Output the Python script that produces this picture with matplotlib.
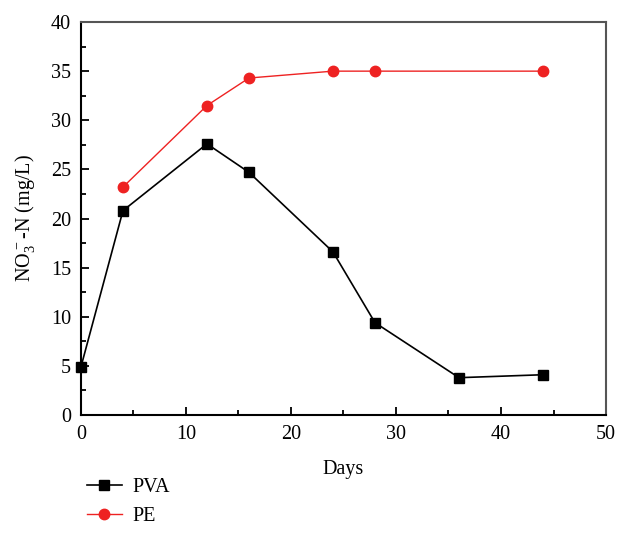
import matplotlib.pyplot as plt
from matplotlib.ticker import MultipleLocator

plt.rcParams['font.family'] = ['Liberation Serif', 'DejaVu Serif']
plt.rcParams['mathtext.fontset'] = 'custom'
plt.rcParams['mathtext.rm'] = 'Liberation Serif'
plt.rcParams['mathtext.it'] = 'Liberation Serif:italic'

# data
pva_days = [0, 4, 12, 16, 24, 28, 36, 44]
pva_no3 = [4.9, 20.8, 27.6, 24.7, 16.6, 9.4, 3.8, 4.1]
pe_days = [4, 12, 16, 24, 28, 44]
pe_no3 = [23.2, 31.5, 34.3, 35.0, 35.0, 35.0]

fig = plt.figure(figsize=(6.18, 5.45), dpi=100)
ax = fig.add_axes([0.131, 0.2385, 0.8496, 0.7211])

ax.plot(pva_days, pva_no3, color='black', lw=1.2, marker='s', ms=6.8,
        label='PVA', clip_on=False, zorder=3)
ax.plot(pe_days, pe_no3, color='#ee2222', lw=1.0, marker='o', ms=7.5,
        label='PE', clip_on=False, zorder=3)

ax.set_xlim(0, 50)
ax.set_ylim(0, 40)
ax.xaxis.set_major_locator(MultipleLocator(10))
ax.xaxis.set_minor_locator(MultipleLocator(5))
ax.yaxis.set_major_locator(MultipleLocator(5))
ax.yaxis.set_minor_locator(MultipleLocator(2.5))
ax.tick_params(which='both', direction='in', labelsize=14.5, width=1.3,
               top=False, right=False)
ax.tick_params(which='major', length=6)
ax.tick_params(which='minor', length=3.5)
ax.tick_params(axis='y', pad=7)
ax.tick_params(axis='x', pad=7)

for side in ['left', 'bottom']:
    ax.spines[side].set_linewidth(1.5)
    ax.spines[side].set_color('black')
for side in ['top', 'right']:
    ax.spines[side].set_linewidth(1.5)
    ax.spines[side].set_color('#555555')

ax.set_xlabel('Days', fontsize=14.5, labelpad=12)
ax.set_ylabel(r'NO$_3^{\,-}$-N (mg/L)', fontsize=14.5, labelpad=10)

fig.legend(loc='upper left', bbox_to_anchor=(0.127, 0.137), frameon=False,
           fontsize=14.5, handlelength=1.75, handletextpad=0.55, labelspacing=0.45,
           borderaxespad=0)

fig.savefig('out.png', dpi=100)
